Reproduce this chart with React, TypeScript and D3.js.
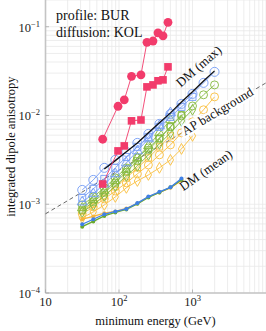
import React from 'react'
import * as d3 from 'd3'

// energy grid of the scan (GeV)
const energies = [31.6, 44.7, 63.1, 89.1, 125.9, 177.8, 251.2, 354.8, 501.2, 707.9, 1000, 1413, 1995]

// DM (max) envelope, starts at the 3rd energy
const dmMax = [0.0025, 0.0031, 0.0039, 0.0049, 0.0064, 0.0083, 0.0107, 0.0142, 0.0185, 0.0245, 0.0318]

// bundle of models
const blueCircles = [0.00145, 0.00188, 0.00257, 0.00316, 0.00389, 0.00491, 0.0062, 0.00804, 0.0104, 0.0135, 0.0175, 0.0233, 0.031]
const blueSquares = [0.00118, 0.00149, 0.00193, 0.00257, 0.00341, 0.00443, 0.00574, 0.00744, 0.00964, 0.0125, 0.0162]
const blueTriangles = [0.00106, 0.00131, 0.00169, 0.0022, 0.00292, 0.00399, 0.00545, 0.00764, 0.0107]
const greenCircles = [0.000982, 0.00121, 0.00153, 0.00198, 0.00257, 0.00333, 0.00431, 0.00559, 0.00744, 0.0099, 0.0128, 0.0171, 0.0221]
const greenSquares = [0.000862, 0.00106, 0.00134, 0.00174, 0.00231, 0.00308, 0.00409, 0.00545, 0.00744, 0.0102]
const greenTriangles = [0.000908, 0.00112, 0.00141, 0.00183, 0.00244, 0.00333, 0.00454, 0.00637, 0.00892]
const greenDiamonds = [0.000819, 0.000982, 0.00124, 0.00161, 0.00208, 0.0027, 0.0036, 0.00479, 0.00637, 0.00869, 0.0116]
const yellowCircles = [0.000778, 0.000932, 0.00115, 0.00141, 0.00174, 0.0022, 0.00277, 0.0036, 0.00466, 0.00637, 0.00847, 0.0116, 0.0162]
const yellowDiamonds = [0.000701, 0.000819, 0.000982, 0.00121, 0.00153, 0.00183, 0.00214, 0.00257, 0.00316, 0.0042, 0.00589]
const yellowSquares = [0.00084, 0.00101, 0.00124, 0.00157, 0.00198, 0.00257, 0.00333, 0.00443, 0.00589]

// DM (mean)
const meanBlue = [0.000595, 0.000678, 0.000771, 0.00083, 0.000885, 0.00103, 0.00122, 0.00138, 0.00155, 0.00195]
const meanGreen = [0.000559, 0.00064, 0.000738, 0.000808, 0.000874, 0.00101, 0.00119, 0.00136, 0.00155, 0.00188]
const meanOrange = [0.000678, 0.000729, 0.000792, 0.00083, 0.000897, 0.00102, 0.00121, 0.00136, 0.00153, 0.00185]

// pink (data-like) series
const pinkEnergies = [60, 97, 118, 148, 199, 240, 290, 339, 397, 464]
const pinkCircles = [0.0054, 0.0127, 0.015, 0.0276, 0.0287, 0.0667, 0.069, 0.0853, 0.0789, 0.112]
const pinkSquares = [0.00169, 0.00399, 0.00454, 0.0087, 0.0089, 0.021, 0.0221, 0.0246, 0.0252, 0.0353]

// AP background power law
const apEnergies = [10, 10000]
const apValues = [0.00078, 0.0233]

const xTicks = [10, 100, 1000]
const xTickExp = ['', '2', '3']
const yTicks = [1e-4, 1e-3, 1e-2, 1e-1]
const yTickExp = ['−4', '−3', '−2', '−1']

const BLUE = '#739bf5'
const GREEN = '#82b83c'
const YELLOW = '#f9be3c'
const PINK = '#f23b6b'

const bundle = [
  {values: yellowDiamonds, color: YELLOW, shape: d3.symbolDiamond, size: 34},
  {values: yellowSquares, color: YELLOW, shape: d3.symbolSquare, size: 40},
  {values: yellowCircles, color: YELLOW, shape: d3.symbolCircle, size: 50},
  {values: greenDiamonds, color: GREEN, shape: d3.symbolDiamond, size: 34},
  {values: greenSquares, color: GREEN, shape: d3.symbolSquare, size: 40},
  {values: greenTriangles, color: GREEN, shape: d3.symbolTriangle, size: 40},
  {values: greenCircles, color: GREEN, shape: d3.symbolCircle, size: 50},
  {values: blueTriangles, color: BLUE, shape: d3.symbolTriangle, size: 44},
  {values: blueSquares, color: BLUE, shape: d3.symbolSquare, size: 49},
  {values: blueCircles, color: BLUE, shape: d3.symbolCircle, size: 64}
]

const means = [
  {values: meanOrange, color: '#f6b43a'},
  {values: meanGreen, color: '#6aaa2c'},
  {values: meanBlue, color: '#3f80e6'}
]

const serif = '"Liberation Serif", "Times New Roman", serif'

export default function App() {
  const x = d3.scaleLog().domain([10, 1e4]).range([45.5, 266])
  const y = d3.scaleLog().domain([1e-4, 0.2]).range([293, 0])

  const xGrid: number[] = []
  for (const d of [10, 100, 1000]) for (let k = 1; k <= 9; k++) xGrid.push(d * k)
  xGrid.push(1e4)
  const yGrid: number[] = []
  for (const d of [1e-4, 1e-3, 1e-2, 1e-1]) for (let k = 1; k <= 9; k++) if (d * k <= 0.2) yGrid.push(d * k)

  const line = d3.line<[number, number]>().x(d => x(d[0])).y(d => y(d[1]))
  const pts = (es: number[], vs: number[]) => vs.map((v, i) => [es[i], v] as [number, number])

  const apMid = 2200
  const apAngle = -Math.atan2(y(apValues[0]) - y(apValues[1]), x(apEnergies[1]) - x(apEnergies[0])) * 180 / Math.PI
  const apY = y(apValues[0] * Math.pow(apMid / apEnergies[0], Math.log(apValues[1] / apValues[0]) / Math.log(apEnergies[1] / apEnergies[0])))

  return (
    <svg width={266} height={331} style={{position: 'absolute', left: 0, top: 0, background: '#fff'}} fontFamily={serif}>
      {/* grid */}
      <g stroke="#e9e9e9" strokeWidth={0.8}>
        {xGrid.map(v => <line key={'gx' + v} x1={x(v)} x2={x(v)} y1={0} y2={293} />)}
        {yGrid.map(v => <line key={'gy' + v} x1={45.5} x2={266} y1={y(v)} y2={y(v)} />)}
      </g>

      {/* axes */}
      <g stroke="#c4c4c4" strokeWidth={1.6}>
        <line x1={45.5} x2={45.5} y1={0} y2={293} />
        <line x1={45.5} x2={266} y1={293} y2={293} />
      </g>
      <g stroke="#aaa" strokeWidth={0.8}>
        {xTicks.map(v => <line key={'tx' + v} x1={x(v)} x2={x(v)} y1={293} y2={289.5} />)}
        {yTicks.map(v => <line key={'ty' + v} x1={45.5} x2={49} y1={y(v)} y2={y(v)} />)}
      </g>
      <g fontSize={12.5} fill="#222">
        {xTicks.map((v, i) => (
          <text key={'lx' + v} x={x(v)} y={306} textAnchor="middle">
            10{xTickExp[i] && <tspan dy={-5} fontSize={8.5}>{xTickExp[i]}</tspan>}
          </text>
        ))}
        {yTicks.map((v, i) => (
          <text key={'ly' + v} x={40} y={y(v) + 5} textAnchor="end">
            10<tspan dy={-5} fontSize={8.5}>{yTickExp[i]}</tspan>
          </text>
        ))}
      </g>

      {/* AP background */}
      <path d={line(pts(apEnergies, apValues)) || ''} fill="none" stroke="#444" strokeWidth={0.8} strokeDasharray="4,3" />

      {/* bundle */}
      {bundle.map((s, si) => {
        const p = pts(energies, s.values)
        const sym = d3.symbol().type(s.shape).size(s.size)()
        return (
          <g key={'b' + si}>
            <path d={line(p) || ''} fill="none" stroke={s.color} strokeWidth={0.9} />
            {p.map((d, i) => (
              <path key={i} d={sym || ''} transform={`translate(${x(d[0])},${y(d[1])})`} fill="none" stroke={s.color} strokeWidth={0.9} />
            ))}
          </g>
        )
      })}

      {/* DM (max) */}
      <path d={line(pts(energies.slice(2), dmMax)) || ''} fill="none" stroke="#111" strokeWidth={1.3} />

      {/* DM (mean) */}
      {means.map((s, si) => {
        const p = pts(energies, s.values)
        return (
          <g key={'m' + si}>
            <path d={line(p) || ''} fill="none" stroke={s.color} strokeWidth={1.3} />
            {p.map((d, i) => <circle key={i} cx={x(d[0])} cy={y(d[1])} r={2} fill={s.color} />)}
          </g>
        )
      })}

      {/* pink series */}
      <path d={line(pts(pinkEnergies, pinkSquares)) || ''} fill="none" stroke={PINK} strokeWidth={0.9} />
      <path d={line(pts(pinkEnergies, pinkCircles)) || ''} fill="none" stroke={PINK} strokeWidth={0.9} />
      {pinkSquares.map((v, i) => (
        <rect key={'ps' + i} x={x(pinkEnergies[i]) - 3.8} y={y(v) - 3.8} width={7.6} height={7.6} fill={PINK} />
      ))}
      {pinkCircles.map((v, i) => (
        <circle key={'pc' + i} cx={x(pinkEnergies[i])} cy={y(v)} r={4.4} fill={PINK} />
      ))}

      {/* labels */}
      <g fill="#111">
        <text x={56} y={20} fontSize={14}>profile: BUR</text>
        <text x={56} y={37} fontSize={14}>diffusion: KOL</text>
        <g fontSize={13}>
          <text transform={`translate(199,66.5) rotate(-41)`} textAnchor="middle" dy={4}>DM (max)</text>
          <text transform={`translate(${x(apMid)},${apY}) rotate(${apAngle})`} textAnchor="middle" dy={4}
            stroke="#fff" strokeWidth={5} paintOrder="stroke" strokeLinejoin="round">AP background</text>
          <text transform={`translate(206,170.5) rotate(-35)`} textAnchor="middle" dy={4}>DM (mean)</text>
        </g>
        <g fontSize={12.5}>
          <text transform={`translate(15,146.5) rotate(-90)`} textAnchor="middle">integrated dipole anisotropy</text>
          <text x={155.5} y={325} textAnchor="middle">minimum energy (GeV)</text>
        </g>
      </g>
    </svg>
  )
}
